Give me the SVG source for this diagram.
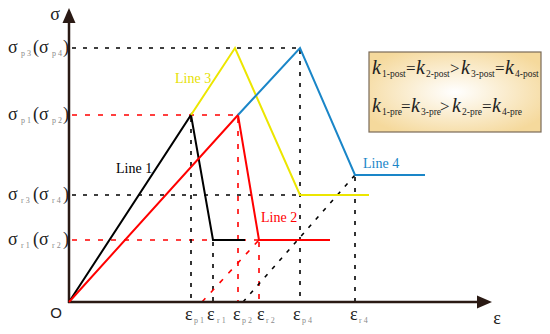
<svg xmlns="http://www.w3.org/2000/svg" width="550" height="334" viewBox="0 0 550 334">
<defs>
<radialGradient id="lg" cx="0.5" cy="0.5" r="0.6">
<stop offset="0" stop-color="#ffffff"/>
<stop offset="1" stop-color="#f5d99c"/>
</radialGradient>
<style>
.axis{stroke:#2a1a14;stroke-width:2.5;fill:none}
.dk{stroke:#000;stroke-width:1.6;stroke-dasharray:4 7;fill:none}
.dr{stroke:#ff0000;stroke-width:1.6;stroke-dasharray:5 8;fill:none}
.ln{stroke-width:2;fill:none;stroke-linejoin:miter}
.lbl{font-family:"Liberation Serif","DejaVu Serif",serif;font-size:14px}
.sig{font-family:"Liberation Serif","DejaVu Serif",serif;font-size:18px;fill:#222}
.sub{font-size:8px;fill:#8a8a8a;letter-spacing:2px}
.k{font-family:"Liberation Serif","DejaVu Serif",serif;font-size:17px;fill:#222}
.kk{font-style:italic;font-size:20px}
.ks{font-size:9.5px}
</style>
</defs>
<rect width="550" height="334" fill="#fff"/>
<g id="connectors">
<path class="dk" d="M72 48H300"/>
<path class="dr" d="M72 115H238"/>
<path class="dk" d="M72 195H300"/>
<path class="dr" d="M72 240H259"/>
<path class="dk" d="M191 118V302"/>
<path class="dk" d="M213 242V302"/>
<path class="dr" d="M238 118V302"/>
<path class="dr" d="M259 242V302"/>
<path class="dk" d="M300 50V302"/>
<path class="dk" d="M355 177V302"/>
<path class="dr" d="M202 302L259 240"/>
<path class="dk" d="M243 302L355 175"/>
</g>
<g id="axes">
<path class="axis" d="M69 303V20"/>
<path class="axis" d="M68 302H479"/>
<path d="M69 8L62.5 23H75.5Z" fill="#2a1a14"/>
<path d="M492 302L477 295.5V308.5Z" fill="#2a1a14"/>
<text x="55" y="20" class="sig" text-anchor="middle" font-size="19">σ</text>
<text x="497" y="324" class="sig" text-anchor="middle" font-size="14">ε</text>
<text x="56" y="318" font-family="Liberation Sans, Arial, sans-serif" font-size="15" fill="#222" text-anchor="middle">O</text>
</g>
<g id="line1">
<path class="ln" stroke="#000" d="M69 302L191 115L213 240H245"/>
<text class="lbl" x="116" y="173" fill="#000">Line 1</text>
</g>
<g id="line2">
<path class="ln" stroke="#ff0000" d="M69 302L238 115L259 240H330"/>
<text class="lbl" x="261" y="222" fill="#ff0000">Line 2</text>
</g>
<g id="line3">
<path class="ln" stroke="#ece600" d="M191 115L235 48L300 195H369"/>
<text class="lbl" x="175" y="83" fill="#e6df00">Line 3</text>
</g>
<g id="line4">
<path class="ln" stroke="#1a86c8" d="M238 115L300 48L355 175H425"/>
<text class="lbl" x="363" y="168" fill="#1a86c8">Line 4</text>
</g>
<g id="ylabels">
<text class="sig" y="53"><tspan x="8">σ</tspan><tspan class="sub" x="21" dy="3">p3</tspan><tspan x="33" dy="-3">(σ</tspan><tspan class="sub" x="52" dy="3">p4</tspan><tspan x="63" dy="-3">)</tspan></text>
<text class="sig" y="120"><tspan x="8">σ</tspan><tspan class="sub" x="21" dy="3">p1</tspan><tspan x="33" dy="-3">(σ</tspan><tspan class="sub" x="52" dy="3">p2</tspan><tspan x="63" dy="-3">)</tspan></text>
<text class="sig" y="200"><tspan x="8">σ</tspan><tspan class="sub" x="21" dy="3">r3</tspan><tspan x="33" dy="-3">(σ</tspan><tspan class="sub" x="52" dy="3">r4</tspan><tspan x="63" dy="-3">)</tspan></text>
<text class="sig" y="245"><tspan x="8">σ</tspan><tspan class="sub" x="21" dy="3">r1</tspan><tspan x="33" dy="-3">(σ</tspan><tspan class="sub" x="52" dy="3">r2</tspan><tspan x="63" dy="-3">)</tspan></text>
</g>
<g id="xlabels">
<text class="sig" y="320"><tspan x="185">ε</tspan><tspan class="sub" x="194" dy="3">p1</tspan></text>
<text class="sig" y="320"><tspan x="207">ε</tspan><tspan class="sub" x="217" dy="3">r1</tspan></text>
<text class="sig" y="320"><tspan x="233">ε</tspan><tspan class="sub" x="242" dy="3">p2</tspan></text>
<text class="sig" y="320"><tspan x="257">ε</tspan><tspan class="sub" x="266" dy="3">r2</tspan></text>
<text class="sig" y="320"><tspan x="293">ε</tspan><tspan class="sub" x="302" dy="3">p4</tspan></text>
<text class="sig" y="320"><tspan x="350">ε</tspan><tspan class="sub" x="359" dy="3">r4</tspan></text>
</g>
<g id="legend">
<rect x="369" y="52" width="172" height="80" fill="url(#lg)" stroke="#7a6a58" stroke-width="1.2"/>
<text class="k" y="74"><tspan class="kk" x="372">k</tspan><tspan class="ks" x="382" dy="3">1-post</tspan><tspan x="406" dy="-3">=</tspan><tspan class="kk" x="416">k</tspan><tspan class="ks" x="426" dy="3">2-post</tspan><tspan x="450" dy="-3">&gt;</tspan><tspan class="kk" x="461">k</tspan><tspan class="ks" x="471" dy="3">3-post</tspan><tspan x="495" dy="-3">=</tspan><tspan class="kk" x="505">k</tspan><tspan class="ks" x="515" dy="3">4-post</tspan></text>
<text class="k" y="112"><tspan class="kk" x="372">k</tspan><tspan class="ks" x="382" dy="3">1-pre</tspan><tspan x="401" dy="-3">=</tspan><tspan class="kk" x="411">k</tspan><tspan class="ks" x="421" dy="3">3-pre</tspan><tspan x="440" dy="-3">&gt;</tspan><tspan class="kk" x="452">k</tspan><tspan class="ks" x="462" dy="3">2-pre</tspan><tspan x="482" dy="-3">=</tspan><tspan class="kk" x="492">k</tspan><tspan class="ks" x="502" dy="3">4-pre</tspan></text>
</g>
</svg>
